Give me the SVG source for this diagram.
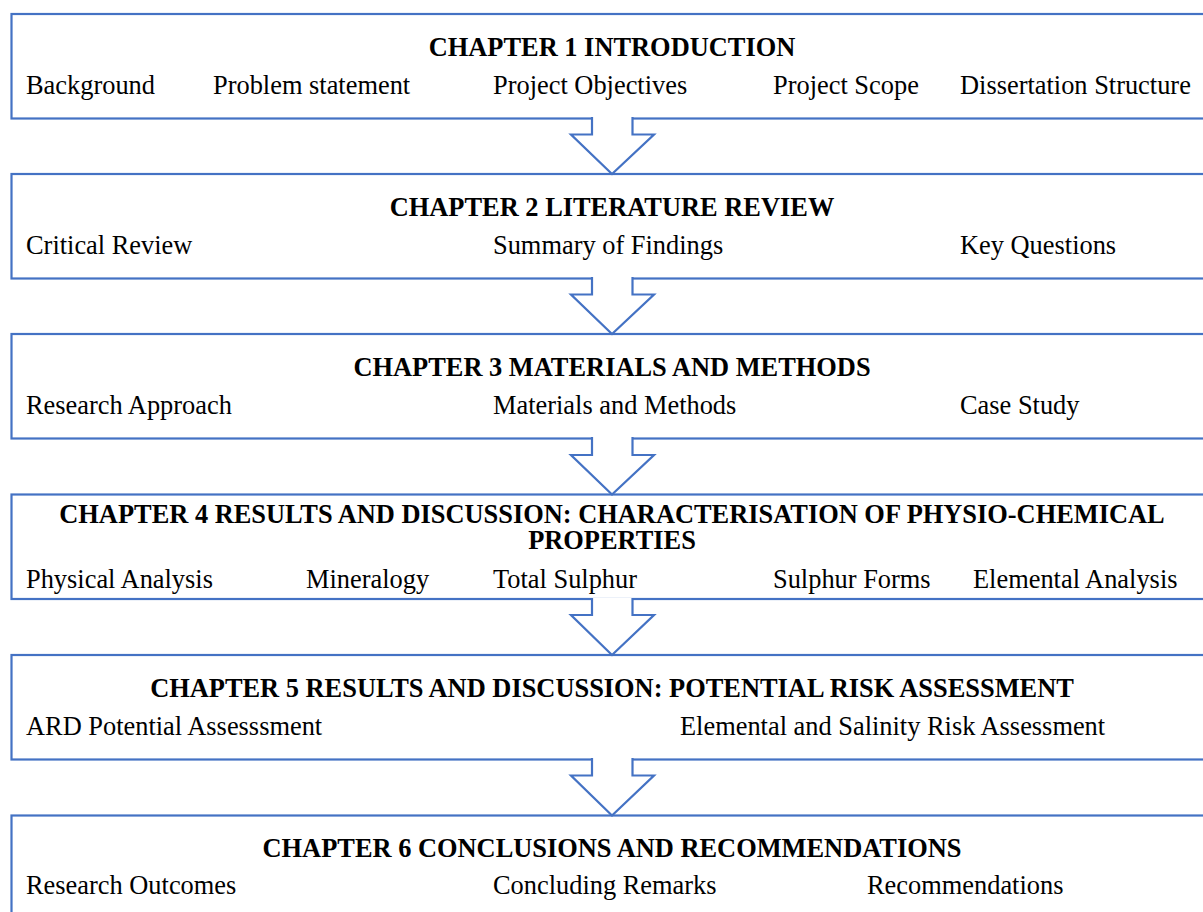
<svg xmlns="http://www.w3.org/2000/svg" width="1203" height="912" viewBox="0 0 1203 912">
<style>
.box{fill:#fff;stroke:#4472C4;stroke-width:2.2}
.arr{fill:#fff;stroke:#4472C4;stroke-width:2.2;stroke-linejoin:miter}
.t{font-family:"Liberation Serif","Times New Roman",serif;font-size:26.4px;font-weight:bold;fill:#000;text-anchor:middle}
.b{font-family:"Liberation Serif","Times New Roman",serif;font-size:26.4px;fill:#000}
</style>
<rect width="1203" height="912" fill="#fff"/>
<g id="ch1">
<rect class="box" x="11.5" y="14" width="1202" height="104.5"/>
<text class="t" x="612" y="56">CHAPTER 1 INTRODUCTION</text>
<text class="b" x="26" y="94">Background</text>
<text class="b" x="213" y="94">Problem statement</text>
<text class="b" x="493" y="94">Project Objectives</text>
<text class="b" x="773" y="94">Project Scope</text>
<text class="b" x="960" y="94">Dissertation Structure</text>
</g>
<g id="ch2">
<rect class="box" x="11.5" y="174" width="1202" height="104.5"/>
<text class="t" x="612" y="216">CHAPTER 2 LITERATURE REVIEW</text>
<text class="b" x="26" y="254">Critical Review</text>
<text class="b" x="493" y="254">Summary of Findings</text>
<text class="b" x="960" y="254">Key Questions</text>
</g>
<g id="ch3">
<rect class="box" x="11.5" y="334" width="1202" height="104.5"/>
<text class="t" x="612" y="376">CHAPTER 3 MATERIALS AND METHODS</text>
<text class="b" x="26" y="414">Research Approach</text>
<text class="b" x="493" y="414">Materials and Methods</text>
<text class="b" x="960" y="414">Case Study</text>
</g>
<g id="ch4">
<rect class="box" x="11.5" y="494.5" width="1202" height="104.5"/>
<text class="t" x="612" y="522.5">CHAPTER 4 RESULTS AND DISCUSSION: CHARACTERISATION OF PHYSIO-CHEMICAL</text>
<text class="t" x="612" y="549">PROPERTIES</text>
<text class="b" x="26" y="588">Physical Analysis</text>
<text class="b" x="306" y="588">Mineralogy</text>
<text class="b" x="493" y="588">Total Sulphur</text>
<text class="b" x="773" y="588">Sulphur Forms</text>
<text class="b" x="973" y="588">Elemental Analysis</text>
</g>
<g id="ch5">
<rect class="box" x="11.5" y="655" width="1202" height="104.5"/>
<text class="t" x="612" y="697">CHAPTER 5 RESULTS AND DISCUSSION: POTENTIAL RISK ASSESSMENT</text>
<text class="b" x="26" y="735">ARD Potential Assesssment</text>
<text class="b" x="680" y="735">Elemental and Salinity Risk Assessment</text>
</g>
<g id="ch6">
<rect class="box" x="11.5" y="815.5" width="1202" height="104.5"/>
<text class="t" x="612" y="857">CHAPTER 6 CONCLUSIONS AND RECOMMENDATIONS</text>
<text class="b" x="26" y="894">Research Outcomes</text>
<text class="b" x="493" y="894">Concluding Remarks</text>
<text class="b" x="867" y="894">Recommendations</text>
</g>
<g id="connectors">
<path class="arr" d="M592,117 V134.5 H571 L612,174 L654,134.5 H632.5 V117"/>
<path class="arr" d="M592,277 V294.5 H571 L612,334 L654,294.5 H632.5 V277"/>
<path class="arr" d="M592,437 V455 H571 L612,494.5 L654,455 H632.5 V437"/>
<path class="arr" d="M592,598 V615 H571 L612,655 L654,615 H632.5 V598"/>
<path class="arr" d="M592,758 V775.5 H571 L612,815.5 L654,775.5 H632.5 V758"/>
</g>
</svg>
